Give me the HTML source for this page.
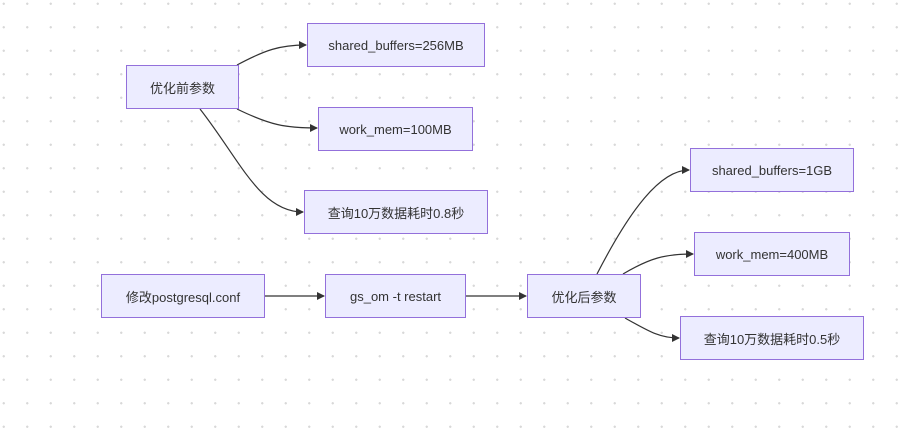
<!DOCTYPE html>
<html><head><meta charset="utf-8"><style>
body{margin:0;width:901px;height:432px;overflow:hidden;background:#fff;
background-image:radial-gradient(circle,#d8d8d8 1px,transparent 1.3px);background-size:23.5px 23.5px;background-position:-8px -8px;
font-family:"Liberation Sans","Noto Sans CJK SC",sans-serif;}
.n{position:absolute;box-sizing:border-box;background:#ececff;border:1px solid #9370db;display:flex;align-items:center;justify-content:center;font-size:13px;color:#333;}
svg{position:absolute;left:0;top:0}
</style></head><body>
<svg width="901" height="432"><defs><marker id="a" markerWidth="8" markerHeight="8" refX="7" refY="4" orient="auto" markerUnits="userSpaceOnUse"><path d="M0,0L8,4L0,8z" fill="#333"/></marker></defs>
<g fill="none" stroke="#333" stroke-width="1.2" marker-end="url(#a)">
<path d="M237,65 C265,50 280,45 306,45"/>
<path d="M237,109 C270,125 285,128 317,128"/>
<path d="M200,109 C240,160 260,212 303,212"/>
<path d="M264,296 L324,296"/>
<path d="M465,296 L526,296"/>
<path d="M597,274 C630,210 660,170 689,170"/>
<path d="M623,274 C650,258 665,254 693,254"/>
<path d="M625,318 C650,332 660,338 679,338"/>
</g></svg>
<div class="n" style="left:126px;top:65px;width:113px;height:44px">优化前参数</div>
<div class="n" style="left:307px;top:23px;width:178px;height:44px">shared_buffers=256MB</div>
<div class="n" style="left:318px;top:107px;width:155px;height:44px">work_mem=100MB</div>
<div class="n" style="left:304px;top:190px;width:184px;height:44px">查询10万数据耗时0.8秒</div>
<div class="n" style="left:101px;top:274px;width:164px;height:44px">修改postgresql.conf</div>
<div class="n" style="left:325px;top:274px;width:141px;height:44px">gs_om -t restart</div>
<div class="n" style="left:527px;top:274px;width:114px;height:44px">优化后参数</div>
<div class="n" style="left:690px;top:148px;width:164px;height:44px">shared_buffers=1GB</div>
<div class="n" style="left:694px;top:232px;width:156px;height:44px">work_mem=400MB</div>
<div class="n" style="left:680px;top:316px;width:184px;height:44px">查询10万数据耗时0.5秒</div>
</body></html>
